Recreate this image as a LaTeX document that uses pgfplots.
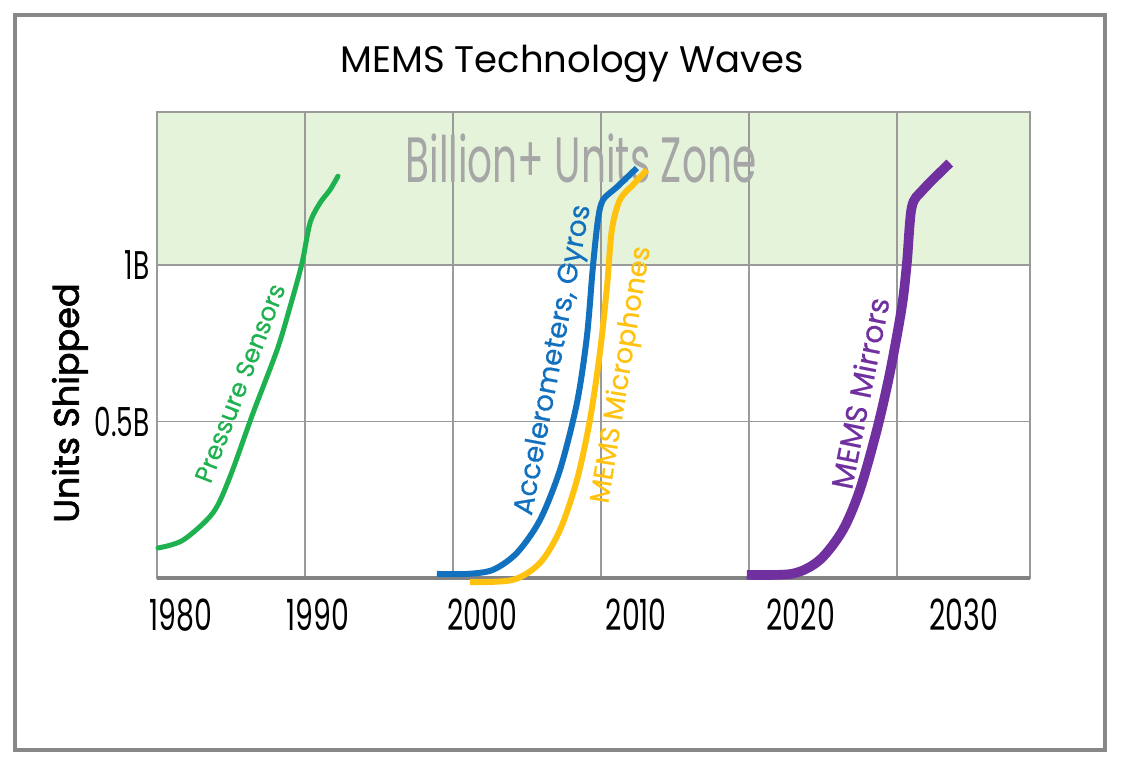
\documentclass[border=0pt]{standalone}
\usepackage{fontspec}
\setmainfont{Poppins}
\newfontfamily\condfont[FakeStretch=0.66]{Poppins}
\newfontfamily\zonefont[FakeStretch=0.61]{Poppins}
\newfontfamily\medfont[FakeBold=2]{Poppins}
\newfontfamily\lblfont[FakeBold=0.6]{Poppins}
\usepackage{pgfplots}
\pgfplotsset{compat=1.18}

\definecolor{zone}{HTML}{E5F3DB}
\definecolor{gridgray}{HTML}{9A9A9A}
\definecolor{framegray}{HTML}{888888}
\definecolor{zonetext}{HTML}{A6A6A6}
\definecolor{psgreen}{HTML}{1DB14F}
\definecolor{accblue}{HTML}{1271BF}
\definecolor{micyellow}{HTML}{FFC20E}
\definecolor{mirpurple}{HTML}{7030A0}

\begin{document}
\begin{tikzpicture}
\path (0,0) rectangle (563pt,386pt);
\draw[framegray, line width=1.6pt] (7.5pt,11pt) rectangle (552.5pt,378.5pt);
\begin{axis}[
    set layers=standard,
    at={(78.5pt,97pt)}, anchor=south west,
    scale only axis, width=436.5pt, height=233pt,
    xmin=1980, xmax=2039, ymin=0, ymax=1.489,
    clip=false,
    axis line style={draw=gridgray, line width=0.9pt},
    tick style={draw=none}, major tick length=0pt,
    xtick={1990,2000,2010,2020,2030}, xticklabels={},
    extra x ticks={1981.62,1990.88,2001.96,2012.39,2023.51,2034.53},
    extra x tick labels={1980,1990,2000,2010,2020,2030},
    extra x tick style={grid=none},
    xticklabel style={anchor=center, yshift=-18.5pt, font=\condfont\fontsize{21.5}{21.5}\selectfont},
    ytick={0.5,1}, yticklabels={0.5B,1B},
    yticklabel style={anchor=east, inner sep=0pt, xshift=-3.5pt, font=\condfont\fontsize{20}{20}\selectfont},
    xmajorgrids, ymajorgrids,
    grid style={gridgray, line width=0.7pt},
    ylabel={Units Shipped},
    every axis y label/.style={at={(axis description cs:-0.0997,0.3755)}, rotate=90, anchor=center, font=\medfont\fontsize{17.5}{17.5}\selectfont},
    title={MEMS Technology Waves},
    every axis title/.style={at={(axis description cs:0.4754,1.0858)}, anchor=base, font=\fontsize{18.5}{18.5}\selectfont},
]
% billion+ zone
\addplot[on layer=axis background, draw=none, fill=zone]
  coordinates {(1980,1) (2039,1) (2039,1.489) (1980,1.489) (1980,1)};
\node[zonetext, font=\zonefont\fontsize{32}{32}\selectfont] at (axis cs:2008.65,1.342) {Billion+ Units Zone};
\draw[gridgray!85!black, line width=2pt] (rel axis cs:0,0) -- (rel axis cs:1,0);

% Pressure Sensors
\addplot[psgreen, line width=2.5pt, smooth, line cap=round] coordinates {
 (1980.07,0.096) (1981.76,0.121) (1983.78,0.208) (1984.93,0.323) (1986.49,0.527)
 (1988.11,0.728) (1988.99,0.866) (1989.80,1.006) (1990.34,1.134) (1991.01,1.198)
 (1991.69,1.240) (1992.23,1.284)};
% MEMS Microphones
\addplot[micyellow, line width=3pt, smooth] coordinates {
 (2001.15,-0.013) (2004.05,-0.006) (2005.88,0.048) (2007.23,0.153) (2008.38,0.313)
 (2009.26,0.505) (2009.93,0.719) (2010.41,0.930) (2010.74,1.112) (2011.28,1.208)
 (2012.16,1.256) (2013.11,1.304)};
% Accelerometers, Gyros
\addplot[accblue, line width=3pt, smooth] coordinates {
 (1998.92,0.013) (2000.95,0.013) (2002.70,0.026) (2004.32,0.080) (2005.88,0.185)
 (2007.23,0.345) (2008.38,0.559) (2009.05,0.770) (2009.46,0.994) (2009.80,1.144)
 (2010.14,1.208) (2011.08,1.249) (2012.43,1.310)};
% MEMS Mirrors
\addplot[mirpurple, line width=4.8pt, smooth] coordinates {
 (2019.86,0.010) (2022.97,0.014) (2024.80,0.058) (2026.35,0.153) (2027.50,0.281)
 (2028.65,0.473) (2029.53,0.655) (2030.34,0.866) (2030.68,1.006) (2031.01,1.185)
 (2031.76,1.240) (2033.58,1.326)};

\node[psgreen, rotate=69, font=\lblfont\fontsize{12.5}{12.5}\selectfont] at (axis cs:1985.61,0.623) {Pressure Sensors};
\node[accblue, rotate=79.3, font=\lblfont\fontsize{14}{14}\selectfont] at (axis cs:2006.85,0.696) {Accelerometers, Gyros};
\node[micyellow, rotate=80.7, font=\lblfont\fontsize{13.6}{13.6}\selectfont] at (axis cs:2011.45,0.649) {MEMS Microphones};
\node[mirpurple, rotate=78.7, font=\lblfont\fontsize{15}{15}\selectfont] at (axis cs:2027.5,0.591) {MEMS Mirrors};
\end{axis}
\end{tikzpicture}
\end{document}
